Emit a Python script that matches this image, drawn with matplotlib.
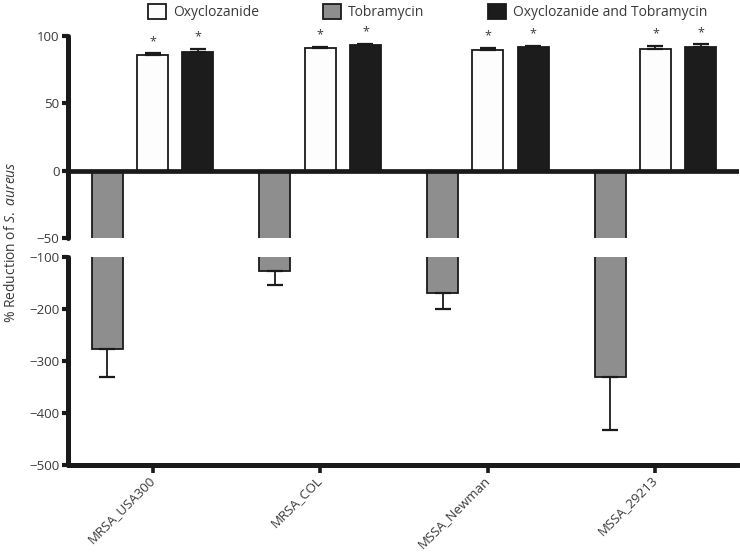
import matplotlib

matplotlib.use("Agg")

import matplotlib.pyplot as plt
import numpy as np

COLORS = {
    "ink": "#1a1a1a",
    "text": "#3a3a3a",
    "oxy": "#fdfdfd",
    "tob": "#8e8e8e",
    "combo": "#1c1c1c",
}

STRAINS = ["MRSA_USA300", "MRSA_COL", "MSSA_Newman", "MSSA_29213"]
OXY = [86.0, 91.0, 90.0, 90.5]
OXY_ERR = [1.2, 0.9, 1.2, 2.0]
TOB = [-276.0, -126.0, -169.0, -331.0]
TOB_ERR = [54.0, 27.0, 31.0, 101.0]
COMBO = [88.0, 93.3, 92.0, 91.8]
COMBO_ERR = [2.2, 0.8, 0.8, 2.0]
OXY_SIG = [True, True, True, True]
COMBO_SIG = [True, True, True, True]

TOP_TICKS = [-50, 0, 50, 100]
BOTTOM_TICKS = [-500, -400, -300, -200, -100]

OFFSET = 0.27
WIDTH = 0.185

plt.rcParams.update(
    {
        "font.family": ["Open Sans", "DejaVu Sans"],
        "font.size": 9,
        "text.color": COLORS["text"],
        "xtick.color": COLORS["ink"],
        "ytick.color": COLORS["ink"],
        "xtick.labelcolor": COLORS["text"],
        "ytick.labelcolor": COLORS["text"],
        "mathtext.fontset": "custom",
        "mathtext.it": "Open Sans:italic",
        "mathtext.rm": "Open Sans",
    }
)


def draw_bars(ax):
    x = np.arange(len(STRAINS))
    zeros = [0] * len(STRAINS)
    ebar = dict(ecolor=COLORS["ink"], elinewidth=1.3, capsize=5.5, capthick=1.6)
    b_tob = ax.bar(x - OFFSET, TOB, WIDTH, color=COLORS["tob"], edgecolor=COLORS["ink"],
                   linewidth=1.3, yerr=[TOB_ERR, zeros], error_kw=ebar, label="Tobramycin", zorder=2)
    b_oxy = ax.bar(x, OXY, WIDTH, color=COLORS["oxy"], edgecolor=COLORS["ink"],
                   linewidth=1.3, yerr=[zeros, OXY_ERR], error_kw=ebar, label="Oxyclozanide", zorder=2)
    b_combo = ax.bar(x + OFFSET, COMBO, WIDTH, color=COLORS["combo"], edgecolor=COLORS["ink"],
                     linewidth=1.3, yerr=[zeros, COMBO_ERR], error_kw=ebar,
                     label="Oxyclozanide and Tobramycin", zorder=2)
    return x, b_oxy, b_tob, b_combo


def style_axis(ax):
    for side in ("top", "right"):
        ax.spines[side].set_visible(False)
    ax.spines["left"].set_linewidth(3.6)
    ax.spines["left"].set_color(COLORS["ink"])
    ax.spines["left"].set_capstyle("round")
    ax.tick_params(axis="y", direction="out", length=4.2, width=3.0, pad=2, labelsize=9.5)
    ax.set_xlim(-0.505, 3.5)


fig = plt.figure(figsize=(7.4, 5.56), dpi=100)
ax_top = fig.add_axes([0.0919, 0.572, 0.907, 0.363])
ax_bot = fig.add_axes([0.0919, 0.1637, 0.907, 0.3741])

x, b_oxy, b_tob, b_combo = draw_bars(ax_top)
draw_bars(ax_bot)

# top panel
style_axis(ax_top)
ax_top.spines["bottom"].set_visible(False)
ax_top.set_ylim(-50, 100)
ax_top.set_yticks(TOP_TICKS)
ax_top.set_xticks([])
ax_top.axhline(0, color=COLORS["ink"], lw=3.4, zorder=5)

for xi, v, e, s in zip(x, OXY, OXY_ERR, OXY_SIG):
    if s:
        ax_top.annotate("*", (xi, v + e), xytext=(0, 4), textcoords="offset points",
                        ha="center", va="bottom", fontsize=9, color=COLORS["text"])
for xi, v, e, s in zip(x + OFFSET, COMBO, COMBO_ERR, COMBO_SIG):
    if s:
        ax_top.annotate("*", (xi, v + e), xytext=(0, 4), textcoords="offset points",
                        ha="center", va="bottom", fontsize=9, color=COLORS["text"])

# bottom panel
style_axis(ax_bot)
ax_bot.spines["bottom"].set_linewidth(3.6)
ax_bot.spines["bottom"].set_color(COLORS["ink"])
ax_bot.spines["bottom"].set_capstyle("round")
ax_bot.set_ylim(-500, -100)
ax_bot.set_yticks(BOTTOM_TICKS)
ax_bot.set_xticks(x)
ax_bot.set_xticklabels(STRAINS, rotation=45, ha="right", va="center", rotation_mode="anchor")
ax_bot.tick_params(axis="x", direction="out", length=5.5, width=2.6, pad=4, labelsize=9.5)

fig.text(0.016, 0.565, r"% Reduction of $\mathit{S.\ aureus}$", rotation=90,
         ha="center", va="center", fontsize=10, color=COLORS["text"])

fig.legend(
    [b_oxy, b_tob, b_combo],
    ["Oxyclozanide", "Tobramycin", "Oxyclozanide and Tobramycin"],
    loc="center",
    bbox_to_anchor=(0.578, 0.978),
    ncol=3,
    frameon=False,
    fontsize=10,
    handlelength=1.3,
    handleheight=1.3,
    handletextpad=0.5,
    columnspacing=4.6,
)

fig.savefig("out.png", dpi=100)
